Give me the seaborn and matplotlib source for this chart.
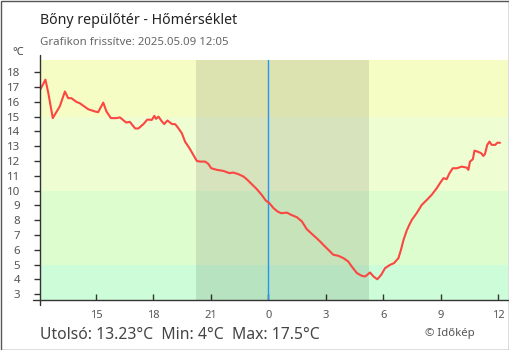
import matplotlib
matplotlib.use("Agg")
import matplotlib.pyplot as plt
import seaborn as sns
import pandas as pd
from matplotlib.patches import Rectangle
from matplotlib.lines import Line2D
from matplotlib.ticker import FixedLocator, FuncFormatter

# Temperature readings, 2025.05.08 afternoon/evening
times_prev = ["12:05", "12:22", "12:31", "12:45", "12:56", "13:07", "13:23", "13:33",
              "13:43", "13:59", "14:10", "14:36", "14:57", "15:07", "15:23", "15:33",
              "15:47", "16:04", "16:15", "16:35", "16:46", "17:03", "17:13", "17:29",
              "17:41", "17:55", "18:03", "18:08", "18:16", "18:27", "18:34", "18:44",
              "18:58", "19:08", "19:16", "19:29", "19:39", "19:53", "20:05", "20:16",
              "20:26", "20:42", "20:52", "21:01", "21:19", "21:39", "21:58", "22:10",
              "22:26", "22:42", "22:52", "23:08", "23:24", "23:39", "23:52"]
temps_prev = [16.8, 17.5, 16.6, 14.9, 15.3, 15.7, 16.7, 16.25,
              16.25, 16.0, 15.9, 15.5, 15.35, 15.3, 15.95, 15.35,
              14.9, 14.9, 14.95, 14.6, 14.65, 14.2, 14.2, 14.5,
              14.8, 14.78, 15.05, 14.85, 15.0, 14.66, 14.5, 14.74,
              14.5, 14.49, 14.28, 13.88, 13.31, 12.86, 12.41, 12.0,
              11.96, 11.96, 11.8, 11.51, 11.4, 11.33, 11.18, 11.22,
              11.11, 10.95, 10.77, 10.43, 10.09, 9.71, 9.32]

# Temperature readings, 2025.05.09 night/morning
times_today = ["00:03", "00:16", "00:29", "00:40", "00:58", "01:11", "01:29", "01:45",
               "02:00", "02:16", "02:31", "02:42", "02:57", "03:13", "03:23", "03:39",
               "03:55", "04:10", "04:21", "04:37", "04:52", "05:03", "05:18", "05:29",
               "05:41", "05:53", "06:05", "06:21", "06:33", "06:47", "06:55", "07:03",
               "07:13", "07:21", "07:29", "07:44", "08:00", "08:16", "08:31", "08:47",
               "08:57", "09:08", "09:18", "09:27", "09:37", "09:50", "10:05", "10:21",
               "10:26", "10:31", "10:40", "10:45", "10:54", "11:06", "11:13", "11:18",
               "11:25", "11:32", "11:39", "11:50", "11:57", "12:05"]
temps_today = [9.15, 8.81, 8.58, 8.47, 8.51, 8.36, 8.2, 7.91,
               7.39, 7.07, 6.78, 6.55, 6.22, 5.88, 5.66, 5.59,
               5.43, 5.2, 4.86, 4.42, 4.24, 4.19, 4.46, 4.19,
               4.0, 4.3, 4.75, 4.98, 5.09, 5.43, 6.0, 6.67,
               7.3, 7.68, 8.02, 8.47, 9.03, 9.37, 9.71, 10.16,
               10.5, 10.84, 10.77, 11.18, 11.51, 11.51, 11.62, 11.55,
               11.4, 11.96, 12.12, 12.7, 12.64, 12.53, 12.34, 12.48,
               13.09, 13.31, 13.09, 13.09, 13.24, 13.23]

sunset = "20:14"
sunrise = "05:15"
y_ticks = list(range(3, 19))
x_ticks = [15, 18, 21, 0, 3, 6, 9, 12]
band_limits = [5, 10, 15]
band_colors = ["#ccfdd8", "#ddfdce", "#effdd3", "#f6fdc4"]

title = "Bőny repülőtér - Hőmérséklet"
subtitle = "Grafikon frissítve: 2025.05.09 12:05"
summary = "Utolsó: 13.23°C  Min: 4°C  Max: 17.5°C"
credit = "© Időkép"


def to_hours(hhmm, day_shift=0):
    h, m = hhmm.split(":")
    return int(h) + int(m) / 60 + day_shift


df = pd.DataFrame({
    "hour": [to_hours(t, -24) for t in times_prev] + [to_hours(t) for t in times_today],
    "temp": temps_prev + temps_today,
})

sns.set_style("white")
plt.rcParams["font.family"] = ["Noto Sans", "DejaVu Sans"]

W, H = 510, 350
fig = plt.figure(figsize=(W / 100, H / 100), dpi=100)
L, R, T, B = 40, 508, 60, 300
ax = fig.add_axes([L / W, 1 - B / H, (R - L) / W, (B - T) / H])

x_min, x_max = to_hours("12:05", -24), 12.5
y_min, y_max = 2.6, 18.83
ax.set_xlim(x_min, x_max)
ax.set_ylim(y_min, y_max)

# temperature bands
edges = [y_min] + band_limits + [y_max]
for lo, hi, c in zip(edges[:-1], edges[1:], band_colors):
    ax.axhspan(lo, hi, color=c, lw=0, zorder=0)

# night shading
ax.axvspan(to_hours(sunset, -24), to_hours(sunrise), color="black", alpha=0.1, lw=0, zorder=1)

# midnight marker
ax.axvline(0, color="#2196f3", lw=1, zorder=2)

sns.lineplot(data=df, x="hour", y="temp", ax=ax, color="#fb4641", lw=1.5, zorder=3)

for s in ax.spines.values():
    s.set_visible(False)

ax.set_xlabel("")
ax.set_ylabel("")
ax.xaxis.set_major_locator(FixedLocator([x if 0 <= x <= 12 else x - 24 for x in x_ticks]))
ax.xaxis.set_major_formatter(FuncFormatter(lambda v, p: f"{int(round(v)) % 24}"))
ax.set_yticks(y_ticks)
ax.tick_params(axis="x", direction="in", length=4.3, width=1, color="#333333",
               labelsize=8, labelcolor="#555555", pad=7, bottom=True)
ax.tick_params(axis="y", direction="out", length=4.3, width=1, color="#333333",
               labelsize=8.3, labelcolor="#555555", pad=10, left=True)

# axis lines extending slightly past the plot area
fig.add_artist(Line2D([L / W, L / W], [1 - 305 / H, 1 - 55 / H], color="#333333", lw=1))
fig.add_artist(Line2D([33 / W, R / W], [1 - B / H, 1 - B / H], color="#333333", lw=1))

# outer frame
fig.add_artist(Rectangle((0.5 / W, 0.5 / H), 1 - 1.5 / W, 1 - 1.5 / H, transform=fig.transFigure,
                         fill=False, edgecolor="#555555", lw=1))

fig.text(40 / W, 1 - 24 / H, title, fontsize=10.2, color="#222222", va="baseline")
fig.text(40 / W, 1 - 45 / H, subtitle, fontsize=8.2, color="#666666", va="baseline")
fig.text(12 / W, 1 - 55 / H, "°C", fontsize=8, color="#444444", va="baseline")
fig.text(40 / W, 1 - 339 / H, summary, fontsize=11.3, color="#444444", va="baseline")
fig.text(425 / W, 1 - 336 / H, credit, fontsize=8.2, color="#555555", va="baseline")

fig.savefig("out.png", dpi=100)
